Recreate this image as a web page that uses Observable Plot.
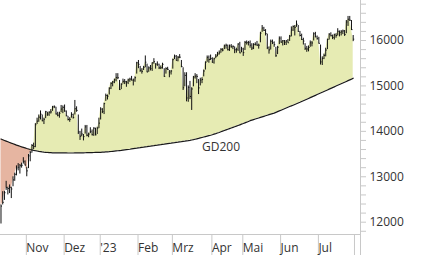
<!DOCTYPE html>
<html><head><meta charset="utf-8">
<script src="https://cdn.jsdelivr.net/npm/d3@7"></script>
<script src="https://cdn.jsdelivr.net/npm/@observablehq/plot@0.6"></script>
<style>html,body{margin:0;padding:0;background:#fff;} #chart svg{display:block}</style>
</head><body><div id="chart"></div>
<script>
// Trading days from 2022-10-13 (index 0) to 2023-08-02 (index 205)
const closes = [
  12355,12438,12649,12765,12741,12767,12731,12931,13053,13195,13211,13243,13253,
  13338,13257,13130,13460,13533,13688,13666,14146,14224,14313,14378,14234,14267,14431,14380,14422,14428,14539,14541,14383,14355,14397,
  14490,14529,14447,14343,14261,14264,14371,14306,14497,14461,13987,13893,13942,13884,14098,13914,13941,13995,13925,14071,13924,
  14069,14181,14490,14436,14610,14792,14775,14948,15058,15087,15134,15187,15181,14920,15033,15103,15093,15082,15132,15150,15126,15128,
  15181,15509,15476,15345,15321,15412,15523,15308,15398,15380,15507,15534,15482,15477,15398,15400,15476,15210,15381,15365,
  15305,15328,15578,15654,15559,15632,15633,15428,14959,15233,14735,14967,14768,14933,15195,15216,15210,14957,15128,15142,15329,15522,15629,
  15581,15603,15520,15598,15655,15703,15729,15808,15790,15883,15896,15796,15882,15864,15872,15796,15801,15922,
  15727,15815,15734,15961,15952,15955,15897,15834,15914,15917,15898,15897,16163,16275,16224,16152,15842,15793,15984,15952,15909,15664,
  15853,16051,15964,15993,15960,15989,15950,16098,16230,16311,16290,16358,16201,16111,16023,15988,15830,15813,15846,15949,15946,16148,
  16081,16039,15938,15529,15603,15673,15790,16024,16141,16105,16068,16125,16109,16204,16177,16191,16211,16131,16407,16469,16447,
  16240,16030
];
const highs = [
  12380,12671,12680,12900,12770,12820,12770,13000,13080,13240,13290,13270,13300,
  13420,13350,13210,13490,13560,13710,13740,14170,14290,14360,14450,14360,14290,14440,14420,14430,14480,14550,14560,14530,14420,14420,
  14570,14560,14580,14450,14330,14300,14410,14380,14680,14540,14360,14000,14050,13930,14130,14130,13960,14080,14030,14080,14070,
  14090,14290,14520,14500,14620,14820,14800,14960,15070,15100,15150,15270,15270,15120,15050,15150,15140,15100,15150,15170,15210,15150,
  15200,15520,15560,15430,15380,15430,15660,15480,15420,15450,15510,15600,15490,15530,15480,15440,15500,15380,15400,15410,
  15340,15340,15590,15680,15670,15650,15690,15560,15400,15290,15290,15000,15100,14960,15210,15270,15250,15140,15170,15180,15350,15530,15660,
  15660,15680,15620,15610,15690,15740,15770,15820,15820,15900,15920,15900,15900,15910,15880,15860,15830,15930,
  15960,15850,15830,15980,15990,15980,15990,15930,15930,15950,15980,15920,16180,16330,16290,16240,16140,15860,16010,16010,15970,15850,
  15870,16080,16080,16000,16000,16000,16020,16110,16300,16320,16330,16430,16330,16200,16140,16050,15930,15870,15880,15990,15980,16170,
  16180,16100,16070,15900,15640,15700,15830,16030,16150,16170,16120,16140,16150,16260,16210,16220,16230,16220,16440,16530,16530,
  16440,16110
];
const lows = [
  11960,12380,12480,12700,12600,12630,12520,12780,12900,13020,13130,13060,13190,
  13280,13240,13000,13180,13330,13520,13600,13640,14150,14200,14250,14210,14150,14280,14330,14330,14380,14440,14500,14360,14320,14290,
  14410,14390,14420,14320,14230,14200,14290,14270,14360,14420,13930,13800,13880,13790,13940,13880,13860,13950,13900,13890,13900,
  13930,14060,14250,14390,14370,14660,14690,14800,14920,14980,15050,15090,15140,14900,14920,15040,15030,14970,15030,15080,15110,15000,
  15080,15260,15380,15300,15260,15340,15400,15290,15300,15330,15320,15480,15370,15430,15360,15360,15370,15190,15260,15340,
  15180,15240,15370,15580,15550,15530,15600,15400,14900,14980,14650,14640,14700,14460,14980,15150,15050,14810,15000,15050,15200,15350,15520,
  15500,15560,15500,15480,15600,15640,15680,15720,15750,15800,15810,15770,15760,15830,15800,15710,15720,15760,
  15710,15730,15650,15780,15900,15880,15830,15780,15800,15880,15870,15810,15950,16180,16200,16100,15800,15700,15790,15910,15850,15630,
  15690,15910,15940,15880,15890,15890,15940,15980,16080,16200,16100,16290,16180,16080,16000,15900,15780,15740,15750,15850,15860,15990,
  16060,16010,15920,15460,15450,15580,15640,15800,16010,16080,16020,16010,16050,16100,16080,16100,16130,16090,16150,16310,16420,
  16220,15975
];
const gd200 = [
  13831,13815,13800,13785,13770,13755,13740,13726,13712,13698,13685,13672,13659,13647,13635,13623,13612,13601,13591,13582,
  13574,13567,13560,13554,13548,13543,13539,13535,13532,13530,13528,13527,13526,13526,13525,13525,
  13525,13524,13524,13523,13523,13523,13523,13524,13524,13525,13526,13527,13528,13529,13530,13531,13532,13533,13534,13535,13536,13537,13538,
  13541,13544,13547,13550,13553,13557,13561,13565,13569,13573,13577,13581,13586,13591,13596,13601,13606,13613,13620,
  13625,13630,13636,13641,13647,13652,13658,13663,13669,13674,13680,13685,13691,13696,13702,13707,13713,13718,13724,13730,
  13736,13741,13747,13752,13758,13763,13769,13774,13780,13785,13791,13796,13802,
  13810,13818,13827,13836,13845,13855,13865,13875,13885,13895,13905,13915,13926,13938,13950,13963,
  13976,13990,14004,14018,14032,14046,14060,14074,14088,14102,14116,14130,14144,14158,14172,14187,14202,14218,14235,
  14247,14259,14271,14283,14295,14307,14319,14331,14343,14355,14367,14379,14391,14402,
  14418,14434,14450,14466,14482,14498,14514,14530,14546,14561,14576,14592,14608,14624,14640,
  14657,14674,14691,14708,14725,14742,14759,14776,14793,14810,14827,14844,14861,14878,14895,14912,14929,14946,14963,14980,
  14997,15014,15031,15048,15065,15082,15099,15116,15133,15150,15171
];
const monthStarts = [13, 35, 56, 78, 98, 121, 139, 161, 183, 204];
const monthLabels = ["Nov", "Dez", "'23", "Feb", "Mrz", "Apr", "Mai", "Jun", "Jul", ""];
const yTicks = d3.range(11800, 16801, 200);
const maLabel = "GD200";

const data = closes.map((c, i) => ({i, close: c, high: highs[i], low: lows[i], ma: gd200[i]}));
const xDomain = [-0.29, 209.25];
const yDomain = [11729, 16881];
const yExt = yDomain[0] - 21 * (yDomain[1] - yDomain[0]) / 234;
const axisGray = "#c8c8c8";
const textColor = "#333";

const chart = Plot.plot({
  width: 426, height: 255,
  marginLeft: 0, marginRight: 66, marginTop: 0, marginBottom: 21,
  style: {fontFamily: "'Open Sans', 'Noto Sans', sans-serif", fontSize: "12px", background: "#fff"},
  x: {domain: xDomain, axis: null, label: null},
  y: {domain: yDomain, axis: null, label: null},
  marks: [
    Plot.areaY(data, {x: "i", y1: "ma", y2: d => Math.min(d.close, d.ma), fill: "#e6b5a1"}),
    Plot.areaY(data, {x: "i", y1: "ma", y2: d => Math.max(d.close, d.ma), fill: "#e6ebb3"}),
    Plot.lineY(data, {x: "i", y: "ma", stroke: "#1a1a1a", strokeWidth: 1.2}),
    Plot.ruleX(data, {x: "i", y1: "low", y2: "high", stroke: "#111", strokeWidth: 1}),
    Plot.link(data, {x1: "i", x2: d => d.i + 0.6, y1: "close", y2: "close", stroke: "#111", strokeWidth: 1}),
    Plot.text([maLabel], {x: () => 117, y: () => 13655, text: d => d, textAnchor: "start", fill: textColor, fontSize: 12}),
    Plot.ruleY([yDomain[0]], {stroke: axisGray}),
    Plot.ruleX([xDomain[1]], {y1: () => yDomain[1], y2: () => yExt, stroke: axisGray}),
    Plot.axisX({ticks: monthStarts, tickFormat: d => monthLabels[monthStarts.indexOf(d)], tickSize: 21, tickPadding: -12,
      textAnchor: "start", dx: 3, stroke: axisGray, color: textColor, fontSize: 12, label: null}),
    Plot.axisY({anchor: "right", ticks: yTicks, tickSize: 5, tickPadding: 4,
      tickFormat: d => d % 1000 === 0 ? String(d) : "", stroke: axisGray, color: textColor, fontSize: 12, label: null})
  ]
});
document.getElementById("chart").appendChild(chart);
</script>
</body></html>
